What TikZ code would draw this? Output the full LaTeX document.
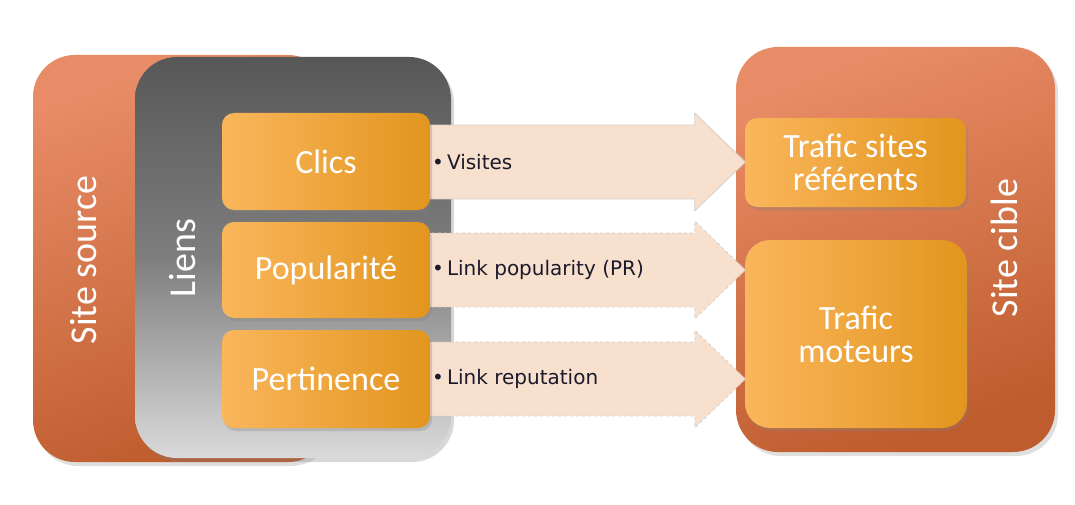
\documentclass[tikz,border=0pt]{standalone}
\usepackage{fontspec}
\setmainfont{Carlito}
\newfontfamily\labfont{DejaVu Sans}
\usetikzlibrary{shapes.arrows,shadows}
\definecolor{siteTop}{HTML}{E88C67}
\definecolor{siteBot}{HTML}{BE5C2D}
\definecolor{grayTop}{HTML}{575757}
\definecolor{grayMid}{HTML}{7E7E7E}
\definecolor{grayBot}{HTML}{DADADA}
\definecolor{boxL}{HTML}{FAB65C}
\definecolor{boxR}{HTML}{E2951E}
\definecolor{arrFill}{HTML}{F8E0CF}
\definecolor{arrLine}{HTML}{D6CFCA}
\definecolor{labText}{HTML}{1A1A2A}
\tikzset{
  sitebox/.style={rounded corners=42, top color=siteTop, bottom color=siteBot, shading angle=20, draw=none,
    drop shadow={opacity=0.25, shadow xshift=3pt, shadow yshift=-4pt}},
  linkbox/.style={rounded corners=42, top color=grayTop, bottom color=grayBot, middle color=grayMid, draw=none,
    drop shadow={opacity=0.3, shadow xshift=3pt, shadow yshift=-4pt}},
  itembox/.style={rounded corners=12, left color=boxL, right color=boxR, draw=none,
    text=white, font=\fontsize{34}{33}\selectfont, align=center,
    drop shadow={opacity=0.3, shadow xshift=2pt, shadow yshift=-3pt}},
  sidetext/.style={text=white, font=\fontsize{38}{38}\selectfont, rotate=90},
  flowarrow/.style={single arrow, fill=arrFill, draw=arrLine, line width=0.8pt,
    minimum height=317, minimum width=97, single arrow head extend=12,
    single arrow tip angle=88, inner xsep=0pt, inner ysep=36.5pt, anchor=tail},
  flowlabel/.style={anchor=west, text=labText, font=\labfont\fontsize{20}{20}\selectfont, inner sep=0pt},
}
\begin{document}
\begin{tikzpicture}[x=1pt,y=-1pt]
\useasboundingbox[fill=white] (0,0) rectangle (1075,505);
% source site
\node[sitebox, minimum width=297, minimum height=407] (source) at (181.5,258.5) {};
\node[sidetext] (sourcetxt) at (84,260) {Site source};
% links container
\node[linkbox, minimum width=316, minimum height=401] (liens) at (293,257.5) {};
\node[sidetext] (lienstxt) at (183,258) {Liens};
% target site
\node[sitebox, minimum width=319, minimum height=405] (cible) at (895.5,249.5) {};
\node[sidetext] (cibletxt) at (1004,248) {Site cible};
% arrows
\coordinate (a1) at (428,162);
\coordinate (a2) at (428,270);
\coordinate (a3) at (428,379);
\node[flowarrow] (arr1) at (a1) {};
\node[flowarrow, dashed] (arr2) at (a2) {};
\node[flowarrow, dashed] (arr3) at (a3) {};
\node[flowlabel] (lab1) at (432,162) {\textbullet\hspace{3pt}Visites};
\node[flowlabel] (lab2) at (432,270) {\textbullet\hspace{3pt}Link popularity (PR)};
\node[flowlabel] (lab3) at (432,379) {\textbullet\hspace{3pt}Link reputation};
% item boxes
\node[itembox, minimum width=208, minimum height=97] (clics) at (326,161.5) {Clics};
\node[itembox, minimum width=208, minimum height=96] (pop) at (326,270) {Popularité};
\node[itembox, minimum width=208, minimum height=98] (pert) at (326,379) {Pertinence};
\node[itembox, minimum width=221, minimum height=89] (refs) at (855.5,162.5) {Trafic sites\\référents};
\node[itembox, rounded corners=25, minimum width=222, minimum height=188] (moteurs) at (856,334) {Trafic\\moteurs};
\end{tikzpicture}
\end{document}
